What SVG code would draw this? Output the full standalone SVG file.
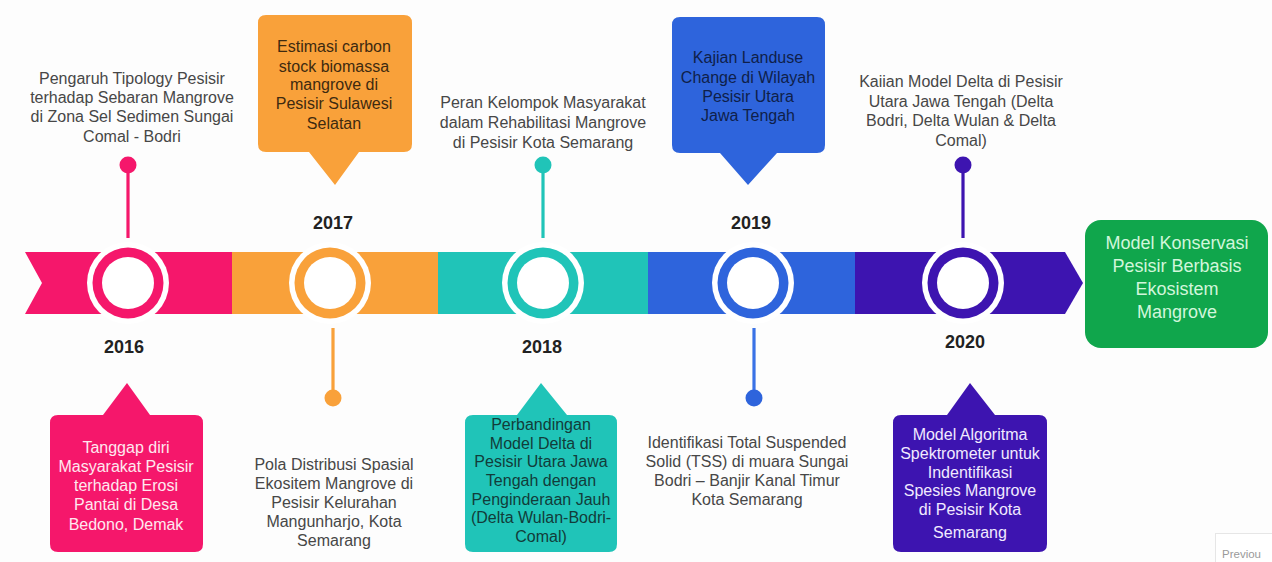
<svg xmlns="http://www.w3.org/2000/svg" width="1272" height="562" viewBox="0 0 1272 562">
  <style>
    text { font-family: "Liberation Sans", Arial, sans-serif; text-anchor: middle; }
    .note { font-size: 16px; fill: #474747; }
    .year { font-size: 18px; font-weight: bold; fill: #222; }
    .stem { stroke-width: 3.2; fill: none; }
    .halo { fill: #fff; }
    .hole { fill: #fff; }
  </style>

  <rect width="1272" height="562" fill="#fdfdfd"/>

  <!-- timeline band -->
  <g id="band">
    <polygon points="25,252 232,252 232,314 25,314 42,283" fill="#f5176b"/>
    <rect x="232" y="252" width="206" height="62" fill="#f9a13a"/>
    <rect x="438" y="252" width="210" height="62" fill="#20c4b8"/>
    <rect x="648" y="252" width="207" height="62" fill="#2e64dc"/>
    <polygon points="855,252 1065,252 1083,283 1065,314 855,314" fill="#3d14b0"/>
  </g>

  <!-- stems linking rings to labels -->
  <g id="connectors">
    <line class="stem" x1="128" y1="165" x2="128" y2="238" stroke="#f5176b"/>
    <circle cx="128" cy="165" r="8.5" fill="#f5176b"/>
    <line class="stem" x1="333" y1="328" x2="333" y2="398" stroke="#f9a13a"/>
    <circle cx="333" cy="398" r="8.5" fill="#f9a13a"/>
    <line class="stem" x1="543" y1="165" x2="543" y2="238" stroke="#20c4b8"/>
    <circle cx="543" cy="165" r="8.5" fill="#20c4b8"/>
    <line class="stem" x1="754" y1="328" x2="754" y2="398" stroke="#3a72e6"/>
    <circle cx="754" cy="398" r="8.5" fill="#2e64dc"/>
    <line class="stem" x1="963" y1="165" x2="963" y2="238" stroke="#3d14b0"/>
    <circle cx="963" cy="165" r="8.5" fill="#3d14b0"/>
  </g>

  <!-- 2016 -->
  <g id="m2016">
    <circle class="halo" cx="128" cy="283" r="41"/>
    <circle cx="128" cy="283" r="35.5" fill="#f5176b"/>
    <circle class="hole" cx="128" cy="283" r="26"/>
    <text class="year" x="124" y="353">2016</text>
    <text class="note" x="132" y="84">Pengaruh Tipology Pesisir</text>
    <text class="note" x="132" y="103">terhadap Sebaran Mangrove</text>
    <text class="note" x="132" y="122">di Zona Sel Sedimen Sungai</text>
    <text class="note" x="132" y="142">Comal - Bodri</text>
    <path d="M58,415 H103 L127,383 L150,415 H195 Q203,415 203,423 V544 Q203,552 195,552 H58 Q50,552 50,544 V423 Q50,415 58,415 Z" fill="#f5176b"/>
    <g font-size="16" fill="#ffe8ef">
      <text x="126" y="453">Tanggap diri</text>
      <text x="126" y="472">Masyarakat Pesisir</text>
      <text x="126" y="491">terhadap Erosi</text>
      <text x="126" y="510">Pantai di Desa</text>
      <text x="126" y="530">Bedono, Demak</text>
    </g>
  </g>

  <!-- 2017 -->
  <g id="m2017">
    <circle class="halo" cx="330" cy="283" r="41"/>
    <circle cx="330" cy="283" r="35.5" fill="#f9a13a"/>
    <circle class="hole" cx="330" cy="283" r="26"/>
    <text class="year" x="333" y="229">2017</text>
    <path d="M266,15 H404 Q412,15 412,23 V144 Q412,152 404,152 H359 L335,185 L309,152 H266 Q258,152 258,144 V23 Q258,15 266,15 Z" fill="#f9a13a"/>
    <g font-size="16" fill="#3e2a10">
      <text x="334" y="52">Estimasi carbon</text>
      <text x="334" y="72">stock biomassa</text>
      <text x="334" y="90">mangrove di</text>
      <text x="334" y="109">Pesisir Sulawesi</text>
      <text x="334" y="129">Selatan</text>
    </g>
    <text class="note" x="334" y="470">Pola Distribusi Spasial</text>
    <text class="note" x="334" y="489">Ekositem Mangrove di</text>
    <text class="note" x="334" y="508">Pesisir Kelurahan</text>
    <text class="note" x="334" y="527">Mangunharjo, Kota</text>
    <text class="note" x="334" y="546">Semarang</text>
  </g>

  <!-- 2018 -->
  <g id="m2018">
    <circle class="halo" cx="543" cy="283" r="41"/>
    <circle cx="543" cy="283" r="35.5" fill="#20c4b8"/>
    <circle class="hole" cx="543" cy="283" r="26"/>
    <text class="year" x="542" y="353">2018</text>
    <g class="note" font-size="15.5">
      <text x="543" y="108">Peran Kelompok Masyarakat</text>
      <text x="543" y="128">dalam Rehabilitasi Mangrove</text>
      <text x="543" y="148">di Pesisir Kota Semarang</text>
    </g>
    <path d="M473,415 H517 L541,383 L567,415 H609 Q617,415 617,423 V544 Q617,552 609,552 H473 Q465,552 465,544 V423 Q465,415 473,415 Z" fill="#20c4b8"/>
    <g font-size="16" fill="#123c3a">
      <text x="541" y="430">Perbandingan</text>
      <text x="541" y="449">Model Delta di</text>
      <text x="541" y="467">Pesisir Utara Jawa</text>
      <text x="541" y="486">Tengah dengan</text>
      <text x="541" y="505">Penginderaan Jauh</text>
      <text x="541" y="523">(Delta Wulan-Bodri-</text>
      <text x="541" y="542">Comal)</text>
    </g>
  </g>

  <!-- 2019 -->
  <g id="m2019">
    <circle class="halo" cx="753" cy="283" r="41"/>
    <circle cx="753" cy="283" r="35.5" fill="#2e64dc"/>
    <circle class="hole" cx="753" cy="283" r="26"/>
    <text class="year" x="751" y="229">2019</text>
    <path d="M680,17 H817 Q825,17 825,25 V145 Q825,153 817,153 H777 L748,185 L720,153 H680 Q672,153 672,145 V25 Q672,17 680,17 Z" fill="#2e64dc"/>
    <g font-size="16" fill="#0f1f4a">
      <text x="748" y="63">Kajian Landuse</text>
      <text x="748" y="83">Change di Wilayah</text>
      <text x="748" y="102">Pesisir Utara</text>
      <text x="748" y="121">Jawa Tengah</text>
    </g>
    <g class="note" font-size="17">
      <text x="747" y="448">Identifikasi Total Suspended</text>
      <text x="747" y="467">Solid (TSS) di muara Sungai</text>
      <text x="747" y="486">Bodri – Banjir Kanal Timur</text>
      <text x="747" y="505">Kota Semarang</text>
    </g>
  </g>

  <!-- 2020 -->
  <g id="m2020">
    <circle class="halo" cx="963" cy="283" r="41"/>
    <circle cx="963" cy="283" r="35.5" fill="#3d14b0"/>
    <circle class="hole" cx="963" cy="283" r="26"/>
    <text class="year" x="965" y="348">2020</text>
    <text class="note" x="961" y="87">Kaiian Model Delta di Pesisir</text>
    <text class="note" x="961" y="107">Utara Jawa Tengah (Delta</text>
    <text class="note" x="961" y="126">Bodri, Delta Wulan &amp; Delta</text>
    <text class="note" x="961" y="146">Comal)</text>
    <path d="M901,415 H947 L970,383 L995,415 H1039 Q1047,415 1047,423 V544 Q1047,552 1039,552 H901 Q893,552 893,544 V423 Q893,415 901,415 Z" fill="#3d14b0"/>
    <g font-size="16" fill="#f1eaff">
      <text x="970" y="440">Model Algoritma</text>
      <text x="970" y="459">Spektrometer untuk</text>
      <text x="970" y="478">Indentifikasi</text>
      <text x="970" y="496">Spesies Mangrove</text>
      <text x="970" y="515">di Pesisir Kota</text>
      <text x="970" y="538">Semarang</text>
    </g>
  </g>

  <!-- goal -->
  <g id="goal">
    <rect x="1085" y="220" width="183" height="128" rx="16" fill="#10a64c"/>
    <g font-size="18" fill="#d2f6db">
      <text x="1177" y="249">Model Konservasi</text>
      <text x="1177" y="272">Pesisir Berbasis</text>
      <text x="1177" y="295">Ekosistem</text>
      <text x="1177" y="318">Mangrove</text>
    </g>
  </g>

  <!-- page control -->
  <g id="pager">
    <rect x="1215.5" y="533.5" width="70" height="40" fill="#fff" stroke="#e6e6e6"/>
    <text x="1222" y="558" font-size="11.5" fill="#9a9a9a" style="text-anchor:start">Previou</text>
  </g>
</svg>
